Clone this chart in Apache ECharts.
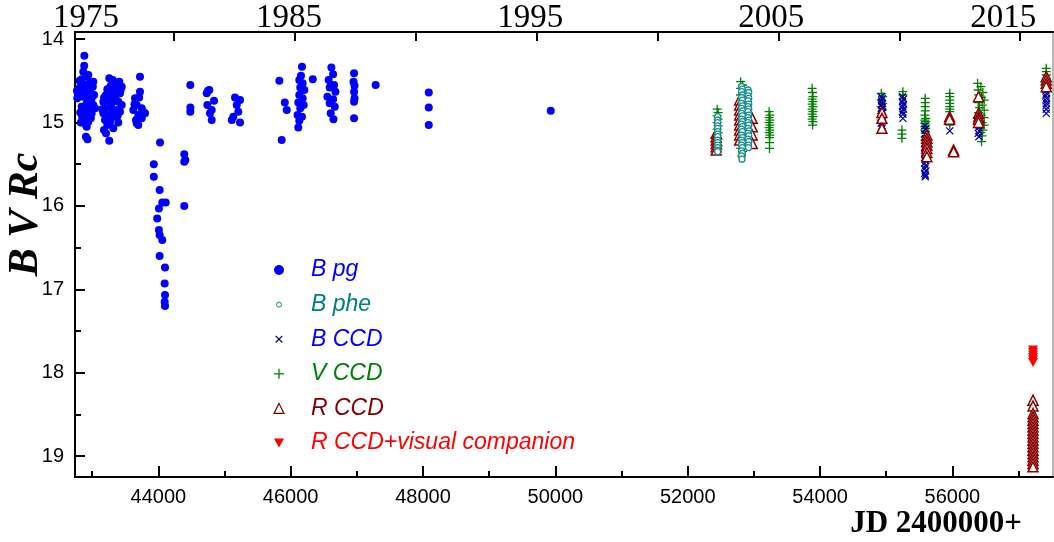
<!DOCTYPE html>
<html><head><meta charset="utf-8">
<script src="https://cdn.jsdelivr.net/npm/echarts@6/dist/echarts.min.js"></script>
<style>html,body{margin:0;padding:0;background:#fff}#c{width:1054px;height:542px}</style>
</head><body><div id="c"></div>
<script>
// ---- axis ticks / labels ----
const xMajorTicks = [44000,46000,48000,50000,52000,54000,56000];
const xMinorTicks = [43000,45000,47000,49000,51000,53000,55000,57000];
const yMajorTicks = [14,15,16,17,18,19];
const yMinorTicks = [14.5,15.5,16.5,17.5,18.5];
const topTickYears = [1980,1985,1990,1995,2000,2005,2010,2015];
const topLabelYears = [1975,1985,1995,2005,2015];
const topLabelJD = [42907,45976,49619,53262,56769];
const seriesNames = ['B pg','B phe','B CCD','V CCD','R CCD','R CCD+visual companion'];

// ---- data: [JD-2400000, magnitude] ----
const bPg = [
[42770,14.62],[42776,14.71],[42791,14.65],[42810,14.50],[42815,14.58],[42820,14.88],[42830,15.00],[42842,14.48],[42842,14.81],[42850,14.93],[42855,14.60],[42866,14.39],[42866,14.69],[42866,14.97],[42875,14.86],[42880,14.32],[42882,14.20],[42892,14.55],[42892,14.91],[42898,15.02],[42905,14.66],[42906,15.17],[42918,14.77],[42918,15.05],[42925,14.45],[42930,15.20],[42942,14.43],[42942,14.85],[42942,14.99],[42955,14.74],[42960,14.53],[42968,14.61],[42980,14.95],[42985,14.80],[42993,14.71],[42993,14.89],[43010,14.57],[43017,14.51],[43017,14.79],[43030,14.67],[43043,14.83],
[43150,14.84],[43169,14.75],[43169,14.89],[43179,15.09],[43180,14.70],[43194,14.83],[43194,14.97],[43209,14.67],[43209,15.13],[43215,14.95],[43230,14.60],[43230,15.03],[43244,14.73],[43244,14.91],[43259,14.47],[43259,15.22],[43270,14.65],[43270,14.81],[43270,14.99],[43280,14.56],[43290,14.78],[43300,14.88],[43311,14.49],[43320,14.71],[43320,14.93],[43320,15.07],[43340,14.52],[43345,14.63],[43355,14.69],[43371,14.55],[43371,14.85],[43385,14.92],[43395,14.75],[43395,15.00],[43410,14.51],[43421,14.65],[43421,14.87],[43430,14.61],[43447,14.57],[43447,14.79],
[43622,14.85],[43640,14.78],[43648,14.71],[43663,14.97],[43673,14.79],[43673,15.01],[43698,14.91],[43698,15.03],[43710,14.70],[43723,14.45],[43723,14.63],[43749,14.83],[43749,14.95],[43770,14.87],[43799,14.89],
[43932,15.50],[43932,15.65],[43983,16.15],[44009,16.03],[44009,16.29],[44020,15.81],[44020,16.35],[44020,16.60],[44026,15.24],[44060,15.96],[44060,16.41],[44096,16.93],[44096,17.15],[44101,16.74],[44101,17.07],[44101,17.20],[44112,15.96],
[44392,15.38],[44392,15.47],[44392,16.00],[44408,15.45],
[44484,14.55],[44484,14.82],[44484,14.87],
[44731,14.65],[44741,14.79],[44750,14.62],[44771,14.61],[44781,14.89],[44807,14.85],[44807,14.97],[44842,14.74],
[45110,14.97],[45134,14.93],[45159,14.70],[45185,14.79],[45209,14.87],[45235,14.73],[45235,15.00],
[45829,14.50],[45864,15.21],[45911,14.76],[45941,14.85],
[46104,14.91],[46115,14.76],[46115,15.06],[46130,14.49],[46130,14.67],[46130,14.98],[46145,14.58],[46145,14.83],[46156,14.44],[46171,14.33],[46171,14.93],[46181,14.53],[46181,14.71],[46197,14.79],[46207,14.61],[46334,14.48],
[46555,14.69],[46574,14.49],[46590,14.58],[46590,14.77],[46605,14.89],[46615,14.34],[46641,14.42],[46641,14.72],[46646,14.96],[46656,14.55],[46667,14.81],[46677,14.63],
[46950,14.51],[46958,14.41],[46958,14.63],[46958,14.75],[46958,14.95],[46965,14.56],[46965,14.71],
[47284,14.55],[48087,14.64],[48087,14.82],[48087,15.03],[49930,14.86]
];
const bPhe = [
[52452,14.93],[52452,14.97],[52452,15.00],[52452,15.04],[52452,15.07],[52452,15.11],[52452,15.14],[52452,15.17],[52452,15.21],[52452,15.24],[52452,15.27],[52452,15.30],[52452,15.33],[52452,15.35],
[52814,14.57],[52826,14.60],[52814,14.63],[52826,14.67],[52814,14.70],[52826,14.73],[52814,14.77],[52826,14.80],[52814,14.83],[52826,14.86],[52814,14.89],[52826,14.92],[52814,14.96],[52826,14.99],[52814,15.02],[52826,15.05],[52814,15.08],[52826,15.11],[52814,15.15],[52826,15.18],[52814,15.21],[52826,15.24],[52814,15.27],[52826,15.30],[52814,15.34],[52826,15.37],[52814,15.40],[52820,15.44],
[52912,14.61],[52922,14.64],[52912,14.68],[52922,14.71],[52912,14.74],[52922,14.78],[52912,14.81],[52922,14.84],[52912,14.87],[52922,14.91],[52912,14.94],[52922,14.97],[52912,15.00],[52922,15.03],[52912,15.07],[52922,15.10],[52912,15.13],[52922,15.16],[52912,15.20],[52922,15.23],[52918,15.27],[52918,15.30]
];
const bCcd = [
[54925,14.69],[54940,14.71],[54930,14.74],[54945,14.77],[54925,14.79],[54940,14.82],[54930,14.85],[54945,14.87],[54925,14.90],[54940,14.93],[54930,14.95],[54945,14.98],[54925,15.01],[54940,15.04],[54935,15.07],
[55245,14.69],[55258,14.72],[55245,14.75],[55258,14.78],[55250,14.81],[55258,14.84],[55245,14.87],[55252,14.90],[55252,14.95],
[55585,15.04],[55592,15.08],[55585,15.14],[55592,15.19],[55580,15.25],[55595,15.28],[55585,15.31],[55598,15.34],[55580,15.37],[55592,15.40],[55585,15.43],[55598,15.46],[55580,15.49],[55592,15.52],[55585,15.55],[55598,15.58],[55580,15.61],[55590,15.63],[55590,15.65],
[55960,15.10],
[56395,14.93],[56402,14.96],[56390,15.00],[56405,15.03],[56395,15.06],[56402,15.10],[56390,15.13],[56400,15.17],
[57418,14.53],[57412,14.56],[57422,14.59],[57414,14.62],[57420,14.65],[57412,14.68],[57422,14.71],[57416,14.74],[57420,14.77],[57414,14.80],[57418,14.84],[57418,14.89]
];
const vCcd = [
[52445,14.84],[52460,14.88],[52445,14.92],[52460,14.96],[52445,15.00],[52460,15.04],[52445,15.08],[52460,15.12],[52445,15.16],[52460,15.20],[52445,15.24],[52460,15.28],[52452,15.32],
[52800,14.51],[52830,14.55],[52800,14.59],[52830,14.63],[52800,14.67],[52830,14.71],[52800,14.75],[52830,14.79],[52800,14.83],[52830,14.87],[52800,14.91],[52830,14.95],[52800,14.99],[52830,15.03],[52800,15.07],[52830,15.11],[52800,15.15],[52830,15.19],[52800,15.23],[52830,15.27],[52800,15.31],[52830,15.35],[52815,15.40],
[52905,14.75],[52905,14.95],[52905,15.15],
[53230,14.87],[53242,14.91],[53230,14.94],[53242,14.97],[53230,15.00],[53242,15.03],[53230,15.06],[53242,15.09],[53230,15.12],[53242,15.15],[53236,15.18],[53236,15.24],[53236,15.31],
[53880,14.59],[53886,14.64],[53892,14.69],[53880,14.72],[53892,14.75],[53880,14.78],[53892,14.81],[53880,14.84],[53892,14.87],[53880,14.90],[53892,14.93],[53880,14.96],[53892,14.99],[53886,15.03],
[54925,14.65],[54945,14.69],[54925,14.73],[54945,14.77],[54925,14.81],[54945,14.85],[54925,14.89],[54945,14.93],[54925,14.97],[54945,15.01],
[55252,14.63],[55252,14.67],[55237,15.09],[55237,15.14],[55237,15.19],
[55589,14.71],[55589,14.76],[55589,14.81],[55589,14.86],[55583,14.91],[55595,14.95],[55583,14.97],[55595,14.99],[55583,15.01],[55595,15.03],[55583,15.05],[55595,15.07],[55583,15.09],[55595,15.11],[55589,15.13],[55589,15.17],[55589,15.21],[55589,15.25],
[55960,14.65],[55960,14.69],[55960,14.73],[55960,14.77],[55960,14.81],[55960,14.84],[55960,14.87],[55960,15.00],[55960,15.03],
[56380,14.53],[56430,14.57],[56390,14.61],[56460,14.64],[56400,14.67],[56440,14.70],[56480,14.73],[56390,14.76],[56450,14.79],[56410,14.82],[56480,14.85],[56395,14.88],[56440,14.91],[56480,14.94],[56400,14.97],[56450,15.00],[56480,15.03],[56420,15.06],[56460,15.09],[56430,15.12],[56450,15.16],[56440,15.23],
[57418,14.35],[57418,14.39],[57418,14.43],[57418,14.47],[57418,14.51]
];
const rCcd = [
[52430,15.13],[52430,15.17],[52430,15.21],[52430,15.25],[52430,15.29],[52430,15.33],
[52785,14.73],[52785,14.79],[52785,14.85],[52785,14.91],[52785,14.97],[52785,15.03],[52785,15.09],[52785,15.15],[52785,15.21],
[52975,14.95],[52975,15.05],[52975,15.15],[52975,15.25],
[54935,14.88],[54935,14.95],[54935,15.07],
[55614,15.15],[55614,15.19],[55614,15.23],[55614,15.27],[55614,15.31],[55614,15.36],[55614,15.41],
[55957,14.93],[55957,14.96],[56018,15.33],[56018,15.35],
[56395,14.69],[56395,14.89],[56395,14.93],[56395,14.96],[56395,15.00],
[57418,14.45],[57418,14.49],[57418,14.53],[57418,14.57],
[57218,18.33],[57218,18.40],[57218,18.49],[57218,18.53],[57218,18.57],[57218,18.61],[57218,18.65],[57218,18.69],[57218,18.73],[57218,18.77],[57218,18.81],[57218,18.85],[57218,18.89],[57218,18.93],[57218,18.97],[57218,19.01],[57218,19.05],[57218,19.09],[57218,19.13]
];
const rVis = [
[57218,17.73],[57218,17.76],[57218,17.79],[57218,17.82],[57218,17.85],[57218,17.88]
];

// ---- layout ----
const XMIN = 42741, XMAX = 57520, YMIN = 13.914, YMAX = 19.252;
const jdOfYear = y => 51544.5 + (y - 2000) * 365.25;
const topTickJD = topTickYears.map(jdOfYear);

const SANS = '"Liberation Sans", Arial, sans-serif';
const SERIF = '"Liberation Serif", "Times New Roman", serif';
const CROSS = 'path://M0,0L10,10M10,0L0,10';
const PLUS = 'path://M5,0L5,10M0,5L10,5';
const DOWN = 'path://M0,0L10,0L5,9Z';

const chart = echarts.init(document.getElementById('c'), null, {renderer:'canvas'});
const blackLine = {lineStyle:{color:'#000', width:2}};
chart.setOption({
  animation:false,
  backgroundColor:'#fff',
  grid:{left:75, right:1, top:32, bottom:65, containLabel:false, outerBoundsMode:'none'},
  legend:{
    orient:'vertical', left:266.5, top:253, itemWidth:10, itemHeight:10, itemGap:10.6,
    selectedMode:false,
    textStyle:{fontFamily:SANS, fontStyle:'italic', fontSize:23, lineHeight:24, padding:[0,0,0,22]},
    data:[
      {name:seriesNames[0], icon:'circle', itemStyle:{color:'#0000ff', borderWidth:0}, textStyle:{color:'#0000ff'}},
      {name:seriesNames[1], icon:'path://M0,0M10,10M2.5,5A2.5,2.5,0,1,1,7.5,5A2.5,2.5,0,1,1,2.5,5Z', itemStyle:{color:'none', borderColor:'#108a8a', borderWidth:1}, textStyle:{color:'#008080'}},
      {name:seriesNames[2], icon:'path://M0,0M12,12M2,2L10,10M10,2L2,10', itemStyle:{color:'none', borderColor:'#000080', borderWidth:1.2}, textStyle:{color:'#0000ff'}},
      {name:seriesNames[3], icon:PLUS, itemStyle:{color:'none', borderColor:'#008000', borderWidth:1.3}, textStyle:{color:'#008000'}},
      {name:seriesNames[4], icon:'triangle', itemStyle:{color:'#ffffff', borderColor:'#800000', borderWidth:1.2}, textStyle:{color:'#800000'}},
      {name:seriesNames[5], icon:DOWN, itemStyle:{color:'#ff0000', borderWidth:0}, textStyle:{color:'#ff0000'}}
    ]
  },
  xAxis:[
    {type:'value', min:XMIN, max:XMAX, position:'bottom', splitLine:{show:false},
     axisLine:blackLine,
     axisTick:{inside:true, length:11, lineStyle:{color:'#000', width:2}, customValues:xMajorTicks},
     axisLabel:{customValues:xMajorTicks, formatter:v=>String(v), fontFamily:SANS, fontSize:20, color:'#000', margin:10, hideOverlap:false},
     name:'JD 2400000+', nameLocation:'end', nameGap:-31, nameMoveOverlap:false,
     nameTextStyle:{fontFamily:SERIF, fontWeight:'bold', fontSize:31, color:'#000', align:'right', verticalAlign:'top', padding:[31,0,0,0]}},
    {type:'value', min:XMIN, max:XMAX, position:'bottom', splitLine:{show:false},
     axisLine:{show:false},
     axisTick:{inside:true, length:6, lineStyle:{color:'#000', width:2}, customValues:xMinorTicks},
     axisLabel:{show:false}},
    {type:'value', min:XMIN, max:XMAX, position:'top', splitLine:{show:false},
     axisLine:blackLine,
     axisTick:{inside:true, length:9, lineStyle:{color:'#000', width:2}, customValues:topTickJD},
     axisLabel:{customValues:topLabelJD, fontFamily:SERIF, fontSize:33, color:'#000', margin:-3, hideOverlap:false,
       formatter:v=>{let b=0;for(let i=1;i<topLabelJD.length;i++){if(Math.abs(topLabelJD[i]-v)<Math.abs(topLabelJD[b]-v))b=i;}return String(topLabelYears[b]);}}}
  ],
  yAxis:[
    {type:'value', inverse:true, min:YMIN, max:YMAX, position:'left', splitLine:{show:false},
     axisLine:blackLine,
     axisTick:{inside:true, length:10, lineStyle:{color:'#000', width:2}, customValues:yMajorTicks},
     axisLabel:{customValues:yMajorTicks, formatter:v=>String(v), fontFamily:SANS, fontSize:20, color:'#000', margin:11},
     name:'B V Rc', nameLocation:'middle', nameGap:28, nameMoveOverlap:false,
     nameTextStyle:{fontFamily:SERIF, fontWeight:'bold', fontStyle:'italic', fontSize:42, color:'#000', padding:[0,0,0,80]}},
    {type:'value', inverse:true, min:YMIN, max:YMAX, position:'left', splitLine:{show:false},
     axisLine:{show:false},
     axisTick:{inside:true, length:6, lineStyle:{color:'#000', width:2}, customValues:yMinorTicks},
     axisLabel:{show:false}},
    {type:'value', inverse:true, min:YMIN, max:YMAX, position:'right', splitLine:{show:false},
     axisLine:{show:true, lineStyle:{color:'#a0a0a0', width:1.5}},
     axisTick:{show:false}, axisLabel:{show:false}}
  ],
  series:[
    {name:seriesNames[3], type:'scatter', data:vCcd, symbol:PLUS, symbolSize:9,
     itemStyle:{color:'none', borderColor:'#008000', borderWidth:1.3, opacity:1}},
    {name:seriesNames[2], type:'scatter', data:bCcd, symbol:CROSS, symbolSize:7,
     itemStyle:{color:'none', borderColor:'#0000a0', borderWidth:1.3, opacity:1}},
    {name:seriesNames[4], type:'scatter', data:rCcd, symbol:'triangle', symbolSize:10,
     itemStyle:{color:'#ffffff', borderColor:'#8b0000', borderWidth:1.5, opacity:1}},
    {name:seriesNames[1], type:'scatter', data:bPhe, symbol:'circle', symbolSize:6,
     itemStyle:{color:'#ffffff', borderColor:'#178f8f', borderWidth:1.3, opacity:1}},
    {name:seriesNames[0], type:'scatter', data:bPg, symbol:'circle', symbolSize:8,
     itemStyle:{color:'#0000ff', opacity:1}},
    {name:seriesNames[5], type:'scatter', data:rVis, symbol:DOWN, symbolSize:[10,9],
     itemStyle:{color:'#ff0000', opacity:1}}
  ]
});
</script></body></html>
